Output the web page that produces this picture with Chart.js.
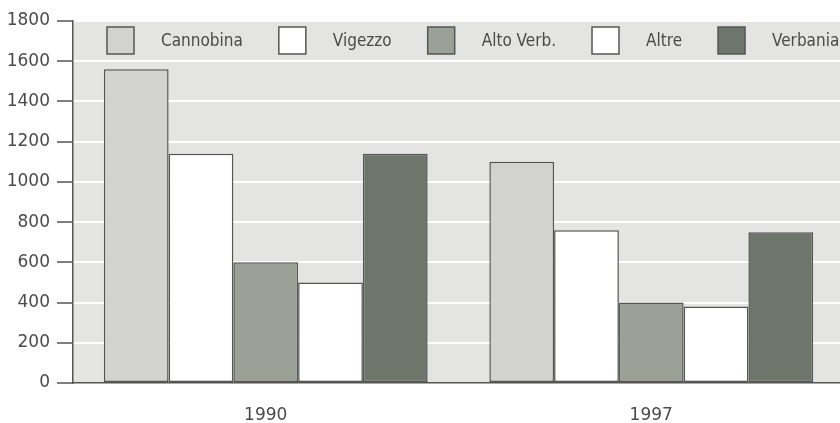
<!DOCTYPE html>
<html>
<head>
<meta charset="utf-8">
<script src="https://cdn.jsdelivr.net/npm/chart.js@4"></script>
<style>
  html, body { margin: 0; padding: 0; background: #fff; overflow: hidden; }
  #wrap { width: 845px; height: 423px; }
</style>
</head>
<body>
<div id="wrap"><canvas id="chart"></canvas></div>
<script>
// data
const years = ["1990", "1997"];
const seriesNames = ["Cannobina", "Vigezzo", "Alto Verb.", "Altre", "Verbania"];
const cannobina = [1560, 1100];
const vigezzo = [1140, 760];
const altoVerb = [600, 400];
const altre = [500, 380];
const verbania = [1140, 750];
const yTicks = [0, 200, 400, 600, 800, 1000, 1200, 1400, 1600, 1800];

const fills = ["#d2d3d0", "#ffffff", "#9ba197", "#ffffff", "#6e766c"];
const edge = "#555";
const family = "'DejaVu Sans', sans-serif";
const fontSize = 17;
const textCol = "#4a4a4a";

// grey plot background
const plotBg = {
  id: "plotBg",
  beforeDraw(chart) {
    const a = chart.chartArea, ctx = chart.ctx;
    ctx.save();
    ctx.fillStyle = "#e4e4e2";
    ctx.fillRect(a.left, a.top, a.right - a.left, a.bottom - a.top);
    ctx.restore();
  }
};

// legend row drawn inside the top of the plot
const insideLegend = {
  id: "insideLegend",
  afterDatasetsDraw(chart) {
    const a = chart.chartArea, ctx = chart.ctx;
    const box = 27, gapText = 27, gapItem = 36;
    let x = a.left + 34;
    const y = a.top + 6;
    ctx.save();
    ctx.font = "condensed " + fontSize + "px " + family;
    ctx.textBaseline = "middle";
    chart.data.datasets.forEach(ds => {
      ctx.fillStyle = ds.backgroundColor;
      ctx.fillRect(x, y, box, box);
      ctx.strokeStyle = edge;
      ctx.lineWidth = 1.5;
      ctx.strokeRect(x, y, box, box);
      x += box + gapText;
      ctx.fillStyle = textCol;
      ctx.fillText(ds.label, x, y + box / 2 + 1);
      x += ctx.measureText(ds.label).width + gapItem;
    });
    ctx.restore();
  }
};

const values = [cannobina, vigezzo, altoVerb, altre, verbania];
const tickFont = { family: family, size: fontSize, style: "condensed" };

new Chart(document.getElementById("chart"), {
  type: "bar",
  data: {
    labels: years,
    datasets: seriesNames.map((name, i) => ({
      label: name,
      data: values[i],
      backgroundColor: fills[i],
      borderColor: edge,
      borderWidth: 1.5,
      borderSkipped: false,
      barPercentage: 1,
      categoryPercentage: 0.84
    }))
  },
  options: {
    responsive: true,
    maintainAspectRatio: false,
    animation: false,
    layout: { padding: { top: 21, right: 1, left: 0, bottom: 0 } },
    plugins: { legend: { display: false }, tooltip: { enabled: false } },
    scales: {
      x: {
        grid: { display: false, drawTicks: false },
        border: { display: true, color: edge, width: 1.5 },
        ticks: { color: textCol, font: tickFont, padding: 22 },
        afterFit: s => { s.height = 40; }
      },
      y: {
        min: 0,
        max: 1800,
        afterBuildTicks: s => { s.ticks = yTicks.map(v => ({ value: v })); },
        grid: { color: "#ffffff", lineWidth: 2, tickColor: edge, tickLength: 16, tickWidth: 1.5 },
        border: { display: true, color: edge, width: 1.5 },
        ticks: { color: textCol, font: tickFont, padding: 7, callback: v => String(v) },
        afterFit: s => { s.width = 73; }
      }
    }
  },
  plugins: [plotBg, insideLegend]
});
</script>
</body>
</html>
